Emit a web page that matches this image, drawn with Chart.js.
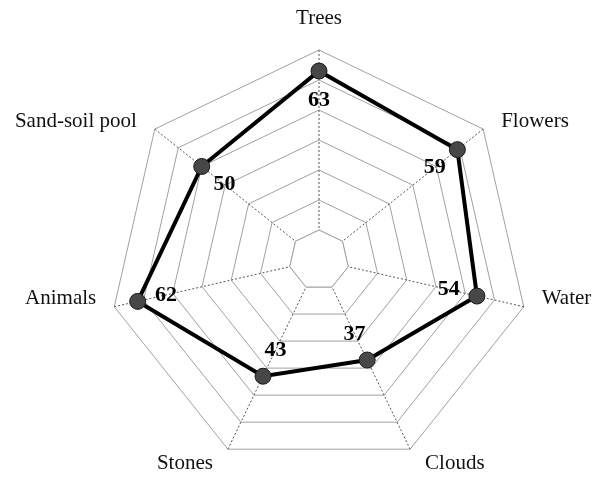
<!DOCTYPE html>
<html>
<head>
<meta charset="utf-8">
<script src="https://cdn.jsdelivr.net/npm/chart.js@4.4.0/dist/chart.umd.min.js"></script>
<style>
    body { margin: 0; background: #fff; }
    #wrap { width: 598px; height: 477px; }
</style>
</head>
<body>
<div id="wrap"><canvas id="radarChart" width="598" height="477"></canvas></div>
<script>
const categories = ['Trees', 'Flowers', 'Water', 'Clouds', 'Stones', 'Animals', 'Sand-soil pool'];
const scores = [63, 59, 54, 37, 43, 62, 50];
const scaleMax = 70;
const scaleStep = 10;

const serif = '"Liberation Serif", "Times New Roman", serif';

// Clean the innermost ring so the dotted spokes start at its corners
const innerRingPlugin = {
    id: 'innerRing',
    beforeDatasetsDraw(chart) {
        const scale = chart.scales.r;
        const ctx = chart.ctx;
        const r = scale.getDistanceFromCenterForValue(scaleStep);
        ctx.save();
        ctx.beginPath();
        for (let i = 0; i < categories.length; i++) {
            const p = scale.getPointPosition(i, r);
            if (i === 0) ctx.moveTo(p.x, p.y); else ctx.lineTo(p.x, p.y);
        }
        ctx.closePath();
        ctx.fillStyle = '#fff';
        ctx.fill();
        ctx.strokeStyle = '#a0a0a0';
        ctx.lineWidth = 1;
        ctx.stroke();
        ctx.restore();
    }
};

// Category names beside the outer corners
const cornerLabelPlugin = {
    id: 'cornerLabels',
    afterDraw(chart) {
        const scale = chart.scales.r;
        const ctx = chart.ctx;
        ctx.save();
        ctx.font = '21px ' + serif;
        ctx.fillStyle = '#111';
        ctx.textBaseline = 'middle';
        categories.forEach((name, i) => {
            const v = scale.getPointPosition(i, scale.drawingArea);
            if (Math.abs(v.x - scale.xCenter) < 2) {
                ctx.textAlign = 'center';
                ctx.fillText(name, v.x, v.y - 32);
                return;
            }
            const right = v.x > scale.xCenter;
            const low = v.y > scale.yCenter + scale.drawingArea * 0.5;
            ctx.textAlign = right ? 'left' : 'right';
            const dx = low ? 15 : 18;
            const dy = low ? 14 : -8;
            ctx.fillText(name, v.x + (right ? dx : -dx), v.y + dy);
        });
        ctx.restore();
    }
};

// Bold values placed just inside each point
const valueLabelPlugin = {
    id: 'valueLabels',
    afterDatasetsDraw(chart) {
        const scale = chart.scales.r;
        const meta = chart.getDatasetMeta(0);
        const ctx = chart.ctx;
        ctx.save();
        ctx.font = 'bold 22px ' + serif;
        ctx.fillStyle = '#000';
        ctx.textAlign = 'center';
        ctx.textBaseline = 'middle';
        meta.data.forEach((pt, i) => {
            const dx = scale.xCenter - pt.x;
            const dy = scale.yCenter - pt.y;
            const len = Math.sqrt(dx * dx + dy * dy) || 1;
            ctx.fillText(String(scores[i]), pt.x + dx / len * 29, pt.y + dy / len * 29);
        });
        ctx.restore();
    }
};

new Chart(document.getElementById('radarChart').getContext('2d'), {
    type: 'radar',
    data: {
        labels: categories,
        datasets: [{
            data: scores,
            borderColor: '#000',
            borderWidth: 4,
            backgroundColor: 'rgba(0,0,0,0)',
            fill: false,
            pointRadius: 8,
            pointBackgroundColor: '#474747',
            pointBorderColor: '#1a1a1a',
            pointBorderWidth: 1
        }]
    },
    options: {
        responsive: false,
        animation: false,
        layout: {
            padding: { top: 50, bottom: 7, left: 100, right: 60 }
        },
        scales: {
            r: {
                min: 0,
                max: scaleMax,
                ticks: { display: false, stepSize: scaleStep },
                pointLabels: { display: false },
                grid: { color: '#a0a0a0', lineWidth: 1 },
                angleLines: { color: '#555', lineWidth: 1, borderDash: [2, 2] }
            }
        },
        plugins: {
            legend: { display: false },
            tooltip: { enabled: false }
        }
    },
    plugins: [innerRingPlugin, cornerLabelPlugin, valueLabelPlugin]
});
</script>
</body>
</html>
